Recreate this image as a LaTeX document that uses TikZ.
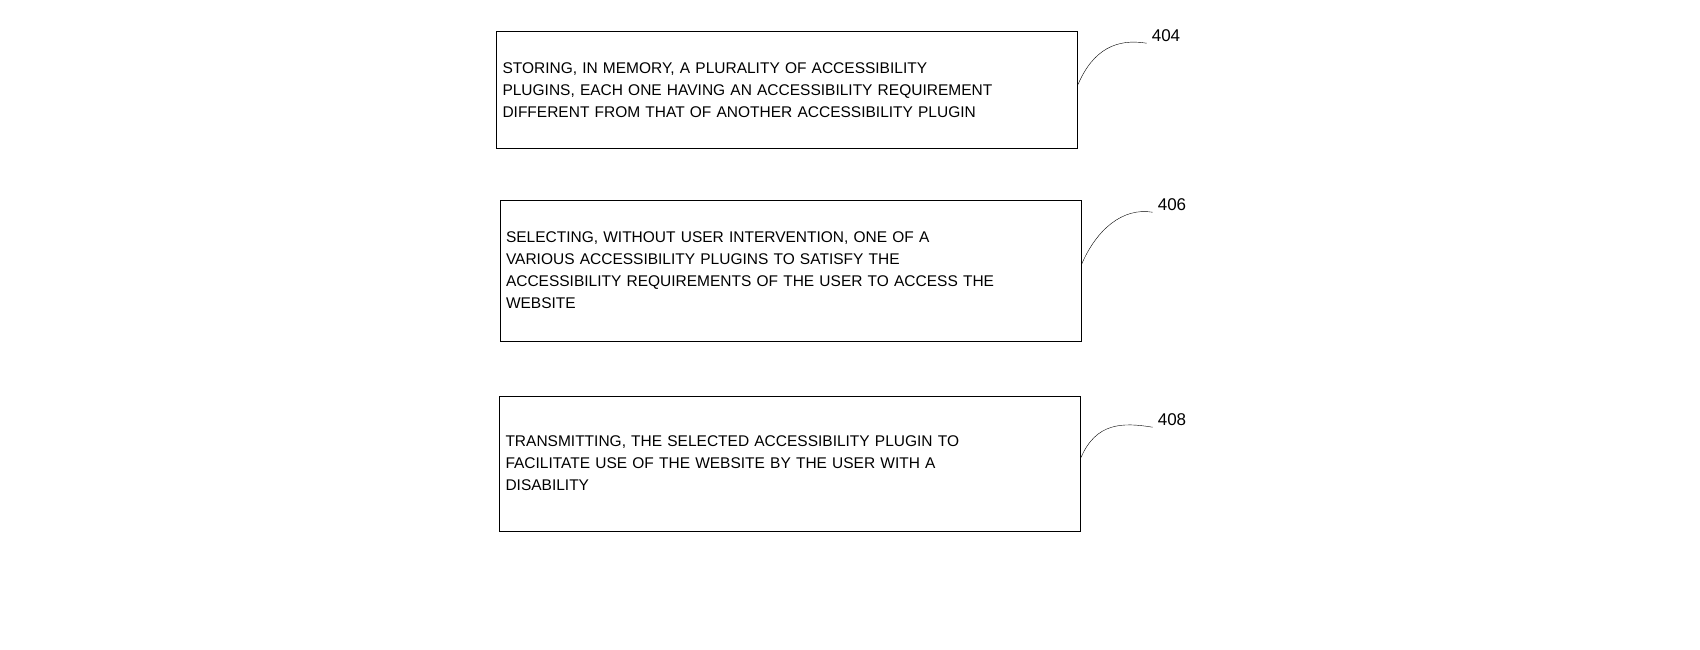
\documentclass[tikz,border=0pt]{standalone}
\usepackage{fontspec}
\setmainfont{Liberation Sans}
\begin{document}
\begin{tikzpicture}[x=1pt,y=1pt,
  flowbox/.style={rectangle,draw,line width=1pt,inner xsep=6pt,inner ysep=0pt,text width=569pt,align=left,font=\fontsize{15.5}{22}\selectfont},
  refnum/.style={font=\fontsize{17}{20}\selectfont,inner sep=1pt}]
\useasboundingbox (0,0) rectangle (1700,-650);
\node[flowbox,minimum height=117pt] (s404) at (787,-90.5) {STORING, IN MEMORY, A PLURALITY OF ACCESSIBILITY\\PLUGINS, EACH ONE HAVING AN ACCESSIBILITY REQUIREMENT\\DIFFERENT FROM THAT OF ANOTHER ACCESSIBILITY PLUGIN};
\node[flowbox,minimum height=141pt] (s406) at (790.5,-270.5) {SELECTING, WITHOUT USER INTERVENTION, ONE OF A\\VARIOUS ACCESSIBILITY PLUGINS TO SATISFY THE\\ACCESSIBILITY REQUIREMENTS OF THE USER TO ACCESS THE\\WEBSITE};
\node[flowbox,minimum height=135pt] (s408) at (790,-463.5) {TRANSMITTING, THE SELECTED ACCESSIBILITY PLUGIN TO\\FACILITATE USE OF THE WEBSITE BY THE USER WITH A\\DISABILITY};
\node[refnum] (n404) at (1166,-36) {404};
\node[refnum] (n406) at (1172,-205) {406};
\node[refnum] (n408) at (1172,-420) {408};
\draw (s404.east) ++(0,6) .. controls +(15,35) and +(-30,5) .. ([xshift=-4pt]n404.south west);
\draw (s406.east) ++(0,6) .. controls +(15,35) and +(-30,5) .. ([xshift=-4pt]n406.south west);
\draw (s408.east) ++(0,6) .. controls +(15,35) and +(-30,5) .. ([xshift=-4pt]n408.south west);
\end{tikzpicture}
\end{document}
